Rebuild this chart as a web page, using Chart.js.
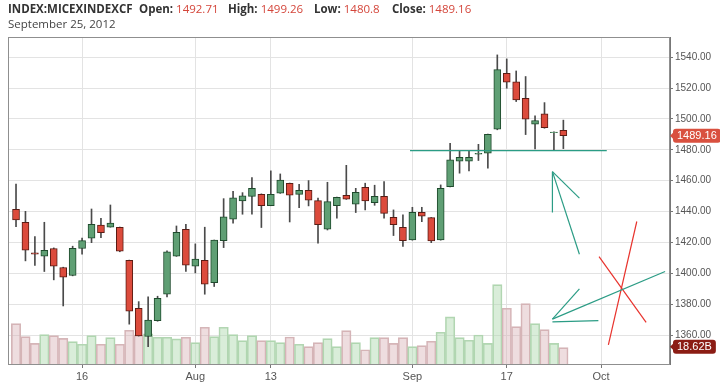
<!DOCTYPE html>
<html>
<head>
<meta charset="utf-8">
<script src="https://cdn.jsdelivr.net/npm/chart.js@4.4.0/dist/chart.umd.min.js"></script>
<style>
  body { margin: 0; background: #fff; }
  #wrap { position: relative; width: 720px; height: 384px; overflow: hidden; }
  canvas { position: absolute; left: 0; top: 0; }
  .hd { position: absolute; font-family: 'Open Sans', sans-serif; font-size: 11.5px; color: #444; white-space: nowrap; line-height: 16px; }
  .hd b { color: #333; }
  .hd .v { color: #d4463b; }
</style>
</head>
<body>
<div id="wrap">
  <canvas id="chart" width="720" height="384"></canvas>
  <div class="hd" id="title" style="left:8px;top:1px"></div>
  <div class="hd" style="left:8px;top:16px">September 25, 2012</div>
</div>
<script>
// x tick positions are trading-day indexes (Jul 5 2012 = 0)
const tickIdx = [7, 19, 27, 42, 52, 62];
const tickLabels = ['16', 'Aug', '13', 'Sep', '17', 'Oct'];
const priceTicks = [1360, 1380, 1400, 1420, 1440, 1460, 1480, 1500, 1520, 1540];

const open = [1441.5, 1433.1, 1413.3, 1411.1, 1416.1, 1403.8, 1398.6, 1416.1, 1422.8, 1431.2,
  1429.9, 1429.9, 1408.5, 1377.4, 1359.1, 1369.4, 1386.5, 1411.1, 1428.6, 1404.6,
  1408.5, 1394.0, 1421.2, 1435.1, 1446.9, 1449.9, 1451.2, 1443.9, 1451.9, 1458.4,
  1451.2, 1453.8, 1447.1, 1428.6, 1443.9, 1450.6, 1444.8, 1455.8, 1445.8, 1449.9,
  1436.3, 1429.9, 1421.7, 1439.6, 1436.1, 1421.7, 1456.2, 1472.6, 1472.6, 1477.2,
  1477.8, 1493.4, 1529.6, 1524.0, 1513.4, 1496.6, 1503.3, 1491.1, 1492.71];
const high = [1457.9, 1440.2, 1423.8, 1433.1, 1416.5, 1404.0, 1417.6, 1422.8, 1441.7, 1435.7,
  1444.3, 1430.0, 1408.6, 1381.7, 1384.8, 1385.2, 1414.6, 1430.7, 1431.8, 1419.1,
  1429.9, 1421.6, 1448.4, 1453.2, 1452.3, 1462.0, 1451.5, 1466.4, 1464.4, 1458.5,
  1457.7, 1460.1, 1448.7, 1459.0, 1449.4, 1470.0, 1455.1, 1458.4, 1457.1, 1459.4,
  1441.1, 1437.9, 1442.8, 1442.8, 1436.2, 1457.3, 1484.3, 1479.3, 1479.3, 1483.6,
  1490.3, 1541.5, 1538.9, 1531.1, 1527.5, 1502.0, 1510.6, 1491.6, 1499.26];
const low = [1430.3, 1408.1, 1405.1, 1401.2, 1395.8, 1378.9, 1398.4, 1412.4, 1419.9, 1423.2,
  1429.9, 1414.0, 1367.1, 1359.4, 1352.6, 1369.0, 1384.8, 1411.0, 1401.2, 1400.3,
  1386.5, 1391.5, 1416.7, 1432.5, 1438.3, 1438.3, 1429.7, 1443.8, 1451.8, 1433.3,
  1442.6, 1443.7, 1419.5, 1428.1, 1435.7, 1447.9, 1439.4, 1441.1, 1444.1, 1435.7,
  1424.5, 1417.4, 1421.5, 1433.5, 1419.9, 1421.5, 1456.0, 1464.9, 1466.4, 1473.1,
  1468.1, 1493.0, 1519.9, 1511.3, 1489.9, 1480.6, 1494.0, 1480.0, 1480.8];
const close = [1434.6, 1415.0, 1412.4, 1415.0, 1404.6, 1397.5, 1416.3, 1421.2, 1431.8, 1426.4,
  1432.5, 1414.3, 1375.5, 1359.5, 1369.7, 1383.9, 1413.9, 1426.6, 1405.3, 1409.2,
  1393.0, 1421.5, 1436.6, 1448.9, 1450.2, 1455.1, 1443.9, 1451.2, 1460.5, 1450.6,
  1453.8, 1447.4, 1431.6, 1446.5, 1449.3, 1448.0, 1452.5, 1446.9, 1449.9, 1438.9,
  1431.6, 1421.2, 1439.6, 1437.0, 1421.0, 1455.1, 1473.5, 1475.2, 1475.2, 1477.8,
  1490.1, 1532.0, 1523.8, 1512.3, 1499.8, 1499.0, 1494.4, 1491.5, 1489.16];
// volume in billions
const volume = [46.0, 31.2, 23.6, 33.5, 32.3, 29.3, 25.5, 22.5, 32.3, 22.5,
  30.0, 22.5, 38.5, 33.1, 34.3, 30.5, 30.5, 28.6, 30.5, 24.3,
  41.9, 31.2, 41.9, 33.5, 26.6, 32.3, 26.6, 26.6, 24.3, 30.8,
  22.5, 19.8, 24.3, 28.9, 19.8, 38.0, 24.3, 16.3, 30.0, 30.0,
  23.6, 30.0, 19.8, 20.9, 25.9, 36.2, 53.7, 30.0, 27.1, 33.1,
  23.6, 90.6, 63.6, 42.6, 68.9, 46.0, 39.2, 23.6, 18.62];

// drawn trend lines: [index, price] pairs
const supportLine = [[41.75, 1479.5], [62.6, 1479.5]];
const tealLines = [
  [[56.84, 1465.9], [56.84, 1439.4]],
  [[56.84, 1465.9], [59.7, 1448.7]],
  [[56.84, 1465.9], [59.7, 1412.4]],
  [[56.84, 1370.4], [59.7, 1390.0]],
  [[56.84, 1370.4], [68.78, 1401.2]],
  [[56.84, 1368.6], [61.71, 1369.4]]
];
const redLines = [
  [[62.77, 1353.7], [65.78, 1433.6]],
  [[61.78, 1410.9], [66.77, 1368.2]]
];

const up = open.map((o, i) => close[i] >= o);

document.getElementById('title').innerHTML =
  '<b>INDEX:MICEXINDEXCF</b>' +
  '<span style="position:absolute;left:131px"><b>Open:</b> <span class="v">' + open[58] + '</span></span>' +
  '<span style="position:absolute;left:220px"><b>High:</b> <span class="v">' + high[58] + '</span></span>' +
  '<span style="position:absolute;left:306px"><b>Low:</b> <span class="v">' + low[58] + '</span></span>' +
  '<span style="position:absolute;left:384px"><b>Close:</b> <span class="v">' + close[58] + '</span></span>';

function lineSet(seg, color) {
  return {
    type: 'line',
    data: seg.map(p => ({ x: p[0], y: p[1] })),
    borderColor: color,
    borderWidth: 1.2,
    pointRadius: 0,
    order: 1,
    yAxisID: 'y'
  };
}

function badge(ctx, x, y, text, color) {
  ctx.font = '11px "Liberation Sans", Arial, sans-serif';
  const w = ctx.measureText(text).width + 8;
  ctx.fillStyle = color;
  ctx.beginPath();
  ctx.moveTo(x, y);
  ctx.lineTo(x + 4, y - 4);
  ctx.lineTo(x + 4, y + 4);
  ctx.closePath();
  ctx.fill();
  ctx.beginPath();
  ctx.roundRect(x + 3, y - 7, w, 14, 3);
  ctx.fill();
  ctx.fillStyle = '#fff';
  ctx.textAlign = 'center';
  ctx.textBaseline = 'middle';
  ctx.fillText(text, x + 3 + w / 2, y + 0.5);
}

const extras = {
  id: 'extras',
  afterDraw(chart) {
    const { ctx, chartArea: a } = chart;
    ctx.save();
    ctx.strokeStyle = '#8f8f8f';
    ctx.lineWidth = 1;
    ctx.strokeRect(a.left + 0.5, a.top + 0.5, a.right - a.left - 1, a.bottom - a.top);
    const ys = chart.scales.y, yv = chart.scales.yv;
    badge(ctx, a.right, ys.getPixelForValue(close[58]), close[58].toFixed(2), '#d9503f');
    badge(ctx, a.right, yv.getPixelForValue(volume[58]) - 1, volume[58].toFixed(2) + 'B', '#8b1c14');
    ctx.restore();
  }
};

new Chart(document.getElementById('chart'), {
  type: 'bar',
  data: {
    datasets: [
      {
        data: volume.map((v, i) => ({ x: i, y: v })),
        yAxisID: 'yv',
        backgroundColor: up.map(u => u ? 'rgba(170,215,170,0.45)' : 'rgba(215,175,178,0.42)'),
        borderColor: up.map(u => u ? '#b3d6b3' : '#d5b6b8'),
        borderWidth: 1,
        borderSkipped: 'bottom',
        barPercentage: 1,
        categoryPercentage: 1,
        grouped: false,
        order: 5
      },
      {
        data: high.map((h, i) => ({ x: i, y: [low[i], h] })),
        yAxisID: 'y',
        backgroundColor: '#4a4a4a',
        barThickness: 1,
        grouped: false,
        order: 4
      },
      {
        data: open.map((o, i) => ({ x: i, y: [Math.min(o, close[i]), Math.max(o, close[i])] })),
        yAxisID: 'y',
        backgroundColor: up.map(u => u ? '#5f9f74' : '#dc4b3c'),
        borderColor: up.map(u => u ? '#1e4a2c' : '#5a1c14'),
        borderWidth: 1,
        borderSkipped: false,
        barThickness: 7,
        grouped: false,
        order: 3
      },
      lineSet(supportLine, '#2b9c85'),
      ...tealLines.map(s => lineSet(s, '#2b9c85')),
      ...redLines.map(s => lineSet(s, '#e8332d'))
    ]
  },
  options: {
    responsive: false,
    animation: false,
    events: [],
    layout: { padding: { left: 8, top: 37, right: 0, bottom: 0 } },
    plugins: { legend: { display: false }, tooltip: { enabled: false } },
    scales: {
      x: {
        type: 'linear',
        min: -0.85,
        max: 69.3,
        offset: false,
        afterBuildTicks: s => { s.ticks = tickIdx.map(v => ({ value: v })); },
        afterFit: s => { s.height = 20; },
        grid: { offset: false, color: '#e3e3e3', tickColor: '#777', tickLength: 4 },
        border: { color: '#777' },
        ticks: {
          padding: 2,
          color: '#555',
          font: { family: '"Liberation Sans", Arial, sans-serif', size: 11 },
          callback: v => tickLabels[tickIdx.indexOf(v)]
        }
      },
      y: {
        position: 'right',
        min: 1341.3,
        max: 1553.1,
        afterBuildTicks: s => { s.ticks = priceTicks.map(v => ({ value: v })); },
        afterFit: s => { s.width = 50; },
        grid: { color: '#e3e3e3', tickColor: '#777', tickLength: 3 },
        border: { color: '#777' },
        ticks: {
          padding: 2,
          color: '#555',
          font: { family: '"Liberation Sans", Arial, sans-serif', size: 10 },
          callback: v => v.toFixed(2)
        }
      },
      yv: {
        display: false,
        min: 0,
        max: 373
      }
    }
  },
  plugins: [extras]
});
</script>
</body>
</html>
